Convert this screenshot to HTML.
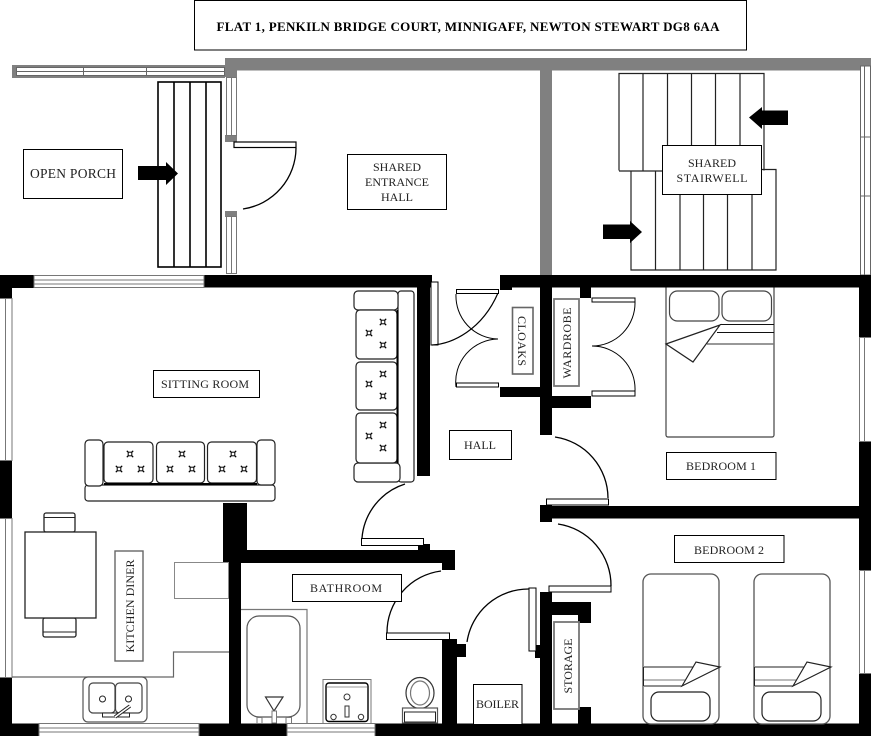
<!DOCTYPE html>
<html><head><meta charset="utf-8"><style>html,body{margin:0;padding:0;background:#fff}svg{display:block}text{font-family:"Liberation Serif",serif;font-size:12px;fill:#222;text-anchor:middle}</style></head><body>
<svg width="871" height="736" viewBox="0 0 871 736" xmlns="http://www.w3.org/2000/svg">
<defs>
<g id="d"><path d="M-3.200-3.200L3.200 3.200M-3.200 3.200L3.200-3.200" stroke="#000" stroke-width="1.200"/><rect x="-1.800" y="-1.800" width="3.600" height="3.600" fill="#fff" stroke="#000" stroke-width="1"/></g>
</defs>
<rect width="871" height="736" fill="#fff"/>
<!-- gray walls -->
<g fill="#808080">
<rect x="225" y="58" width="646" height="12.5"/><rect x="225" y="58" width="12" height="19"/>
<rect x="540" y="58" width="12" height="218"/>
<rect x="12" y="65" width="213" height="13"/>
<rect x="225" y="135" width="12" height="7"/><rect x="225" y="211" width="12" height="6"/>
</g>
<rect x="16.500" y="67.500" width="208" height="8" fill="#fff" stroke="#666" stroke-width="1"/>
<path d="M17 71.500H225M83.500 68V75M146.500 68V75" stroke="#666" fill="none"/>
<g fill="#fff" stroke="#777"><rect x="226.500" y="77.500" width="10" height="58"/><rect x="226.500" y="216.500" width="10" height="57"/></g>
<path d="M231.500 78V135M231.500 217V273" stroke="#777"/>
<!-- front door -->
<rect x="234" y="142" width="62" height="5.500" fill="#fff" stroke="#000" stroke-width="1.200"/>
<path d="M296 148A62 62 0 0 1 243 209" fill="none" stroke="#000" stroke-width="1.300"/>
<!-- porch steps -->
<rect x="158" y="82" width="63" height="185" fill="#fff" stroke="#000" stroke-width="1.600"/>
<path d="M174 82V267M190 82V267M206 82V267" stroke="#000" stroke-width="1.600"/>
<path d="M138 166H166V162L178 173.500L166 185V180H138Z" fill="#000"/>
<rect x="23.500" y="149.500" width="99" height="49" fill="#fff" stroke="#000"/>
<text x="73" y="178" style="font-size:13.500px" textLength="86" lengthAdjust="spacing">OPEN PORCH</text>
<!-- title -->
<rect x="194.500" y="0.500" width="552" height="49.500" fill="#fff" stroke="#000"/>
<text x="468" y="31" textLength="503" lengthAdjust="spacing" style="font-weight:bold;fill:#000;font-size:13px">FLAT 1, PENKILN BRIDGE COURT, MINNIGAFF, NEWTON STEWART DG8 6AA</text>
<!-- shared hall -->
<rect x="347.500" y="154.500" width="99" height="55" fill="#fff" stroke="#000"/>
<text x="397" y="171">SHARED</text><text x="397" y="186">ENTRANCE</text><text x="397" y="201">HALL</text>
<!-- stairs -->
<g fill="none" stroke="#222" stroke-width="1.200">
<path d="M619 170.500V73.500H764V170.500"/><path d="M619 171H665"/><path d="M643 74V171M667.500 74V146M691.500 74V146M715.500 74V146M740 74V146"/>
<path d="M631 171V270H776V169.500H761"/><path d="M655.500 171V270M680 194V270M703.500 194V270M727.500 194V270M752 194V270"/>
</g>
<rect x="662.500" y="145.500" width="99" height="49" fill="#fff" stroke="#000"/>
<text x="712" y="167">SHARED</text><text x="712" y="182" textLength="71" lengthAdjust="spacing">STAIRWELL</text>
<path d="M749 117.500L762 107V110.500H788V125H762V129Z" fill="#000"/>
<path d="M603 224.500H630V221L642 232L630 243V239H603Z" fill="#000"/>
<!-- right window upper -->
<rect x="860.500" y="66" width="10" height="209" fill="#fff" stroke="#666"/><path d="M864.500 66V275M861 137H871M861 196H871" stroke="#666"/>
<!-- bed 1 (behind wall) -->
<rect x="666" y="280" width="108" height="157" rx="2" fill="#fff" stroke="#444" stroke-width="1.200"/>
<!-- black walls -->
<g fill="#000">
<rect x="0" y="275" width="34" height="13"/><rect x="0" y="275" width="12" height="23"/>
<rect x="204" y="275" width="228" height="12.500"/><rect x="417" y="275" width="13" height="201"/>
<rect x="500" y="275" width="371" height="12.500"/><rect x="500" y="287" width="12" height="3"/>
<rect x="540" y="275" width="12" height="160"/><rect x="580" y="287" width="11" height="11"/>
<rect x="500" y="387" width="40" height="10"/><rect x="552" y="396" width="39" height="12"/>
<rect x="859" y="275" width="12" height="62"/><rect x="859" y="442" width="12" height="128"/><rect x="859" y="674" width="12" height="62"/>
<rect x="540" y="506" width="331" height="12.500"/><rect x="540" y="505" width="12" height="17"/>
<rect x="540" y="592" width="12" height="133"/><rect x="552" y="602" width="39" height="13"/><rect x="578" y="615" width="13" height="8"/><rect x="578" y="707" width="13" height="18"/>
<rect x="535" y="645" width="6" height="13"/>
<rect x="0" y="461" width="12" height="57"/><rect x="0" y="678" width="12" height="58"/>
<rect x="0" y="723.500" width="39" height="13"/><rect x="199" y="723.500" width="88" height="13"/><rect x="375" y="723.500" width="496" height="13"/>
<rect x="223" y="503" width="24" height="60"/><rect x="223" y="550" width="232" height="13"/><rect x="442" y="550" width="13" height="20"/><rect x="418" y="544" width="12" height="7"/>
<rect x="229" y="563" width="12" height="161"/>
<rect x="442" y="639" width="15" height="85"/><rect x="457" y="644" width="9" height="13"/>
</g>
<!-- other windows -->
<g fill="#fff" stroke="#777">
<rect x="34" y="275.500" width="170" height="12"/>
<rect x="-1" y="298.500" width="13" height="162"/><rect x="-1" y="518.500" width="13" height="159"/>
<rect x="859.500" y="337.500" width="12" height="104"/><rect x="859.500" y="570.500" width="12" height="103"/>
<rect x="39" y="723.500" width="160" height="13"/><rect x="287" y="723.500" width="88" height="13"/>
</g>
<path d="M34 280H204M34 284H204M5.500 298V461M5.500 518V678M864.500 337V442M864.500 570V674M39 728H199M39 732H199M287 728H375M287 732H375" stroke="#777" fill="none"/>
<!-- sitting room door to hall -->
<rect x="431" y="282" width="7" height="63" fill="#fff" stroke="#000"/>
<path d="M432 345C452 344 482 330 498 293" fill="none" stroke="#000" stroke-width="1.200"/>
<!-- cloaks doors -->
<g fill="#fff" stroke="#000" stroke-width="1"><rect x="456.500" y="289.500" width="42" height="4"/><rect x="456.500" y="383" width="42" height="4"/></g>
<path d="M456 294A43 43 0 0 0 498 339M456 387A43 43 0 0 1 498 339" fill="none" stroke="#000"/>
<!-- wardrobe doors -->
<g fill="#fff" stroke="#000" stroke-width="1"><rect x="592" y="298" width="43" height="4"/><rect x="592" y="391" width="43" height="5"/></g>
<path d="M635 302A43 43 0 0 1 592 346M635 391A43 43 0 0 0 592 346" fill="none" stroke="#000"/>
<rect x="512.500" y="307.500" width="20.500" height="66.500" fill="#fff" stroke="#666" stroke-width="1.600"/>
<text transform="translate(518,341) rotate(90)" textLength="50" lengthAdjust="spacing">CLOAKS</text>
<rect x="554" y="299" width="25" height="87" fill="#fff" stroke="#777" stroke-width="1.800"/>
<text transform="translate(571,343) rotate(-90)" textLength="71" lengthAdjust="spacing">WARDROBE</text>
<rect x="449.500" y="430.500" width="62" height="29" fill="#fff" stroke="#000"/>
<text x="480" y="449">HALL</text>
<!-- hall door to bed 1 -->
<rect x="546.500" y="499" width="62" height="6" fill="#fff" stroke="#000"/>
<path d="M608 498A62 62 0 0 0 555 437" fill="none" stroke="#000" stroke-width="1.300"/>
<!-- door to bed 2 -->
<rect x="549" y="586" width="62" height="6" fill="#fff" stroke="#000"/>
<path d="M611 586A62 62 0 0 0 558 524" fill="none" stroke="#000" stroke-width="1.300"/>
<!-- sitting door -->
<rect x="361.500" y="538.500" width="62" height="7" fill="#fff" stroke="#000"/>
<path d="M362 538A62 62 0 0 1 405 484" fill="none" stroke="#000" stroke-width="1.300"/>
<!-- bathroom door -->
<rect x="386.500" y="633" width="63" height="6.500" fill="#fff" stroke="#000"/>
<path d="M387 633A62 62 0 0 1 441 571" fill="none" stroke="#000" stroke-width="1.300"/>
<!-- boiler door -->
<rect x="529" y="588" width="7" height="63" fill="#fff" stroke="#000"/>
<path d="M529 589A62 62 0 0 0 467 642" fill="none" stroke="#000" stroke-width="1.300"/>
<!-- vertical sofa -->
<g fill="#fff" stroke="#222" stroke-width="1.200">
<rect x="398" y="291" width="16" height="191" rx="3"/>
<rect x="354" y="291" width="44" height="19" rx="4"/>
<rect x="354" y="463" width="46" height="19" rx="4"/>
<rect x="356" y="310" width="41" height="49" rx="4"/>
<rect x="356" y="362" width="41" height="48" rx="4"/>
<rect x="356" y="413" width="41" height="50" rx="4"/>
</g>
<path d="M397.500 310V463" stroke="#000" stroke-width="2"/>
<use href="#d" x="369" y="333"/><use href="#d" x="383" y="322"/><use href="#d" x="383" y="345"/>
<use href="#d" x="369" y="384"/><use href="#d" x="383" y="374"/><use href="#d" x="383" y="396"/>
<use href="#d" x="369" y="436"/><use href="#d" x="383" y="425"/><use href="#d" x="383" y="448"/>
<!-- horizontal sofa -->
<g fill="#fff" stroke="#222" stroke-width="1.200">
<rect x="85" y="485" width="190" height="16" rx="3"/>
<rect x="85" y="440" width="18" height="46" rx="4"/>
<rect x="257" y="440" width="18" height="45" rx="4"/>
<rect x="104" y="442" width="49" height="41" rx="4"/>
<rect x="156.500" y="442" width="48" height="41" rx="4"/>
<rect x="207.500" y="442" width="49" height="41" rx="4"/>
</g>
<path d="M104 484H257" stroke="#000" stroke-width="2"/>
<use href="#d" x="130" y="454"/><use href="#d" x="119" y="469"/><use href="#d" x="141" y="469"/>
<use href="#d" x="182" y="454"/><use href="#d" x="170" y="469"/><use href="#d" x="192" y="469"/>
<use href="#d" x="233" y="454"/><use href="#d" x="222" y="469"/><use href="#d" x="244" y="469"/>
<rect x="153.500" y="370.500" width="106" height="27" fill="#fff" stroke="#000"/>
<text x="205" y="388" textLength="88" lengthAdjust="spacing">SITTING ROOM</text>
<!-- dining -->
<g fill="#fff" stroke="#222" stroke-width="1.300">
<rect x="44" y="513" width="31" height="19" rx="2"/><rect x="43" y="618" width="33" height="19" rx="2"/>
<rect x="25" y="532" width="71" height="86"/>
</g>
<path d="M44 517.500H75M43 632H76" stroke="#222"/>
<rect x="115" y="551" width="28" height="110" fill="#fff" stroke="#666" stroke-width="1.400"/>
<text transform="translate(134,606) rotate(-90)" textLength="93" lengthAdjust="spacing">KITCHEN DINER</text>
<!-- fridge & worktop -->
<rect x="174.500" y="562.500" width="54" height="36" fill="#fff" stroke="#888"/>
<path d="M12 677H173.500V652H229" fill="none" stroke="#666" stroke-width="1.200"/>
<rect x="83" y="677" width="64" height="45" rx="5" fill="#fff" stroke="#555" stroke-width="1.200"/>
<rect x="89" y="683" width="26" height="30" rx="4" fill="#fff" stroke="#444" stroke-width="1.200"/>
<rect x="115.500" y="683" width="26.500" height="30" rx="4" fill="#fff" stroke="#444" stroke-width="1.200"/>
<circle cx="102.500" cy="699" r="3" fill="#fff" stroke="#222"/><circle cx="128.500" cy="699" r="3" fill="#fff" stroke="#222"/>
<rect x="102.500" y="713" width="27" height="4" fill="#fff" stroke="#222"/>
<path d="M115 717L130 706" stroke="#222" stroke-width="3.500"/><path d="M115 717L130 706" stroke="#fff" stroke-width="1.500"/>
<!-- bathroom -->
<rect x="292.500" y="574.500" width="109" height="27" fill="#fff" stroke="#000"/>
<text x="346" y="592" textLength="72" lengthAdjust="spacing">BATHROOM</text>
<path d="M241 609.500H307V723" fill="none" stroke="#777" stroke-width="1.200"/>
<rect x="247" y="616" width="53" height="101" rx="12" fill="#fff" stroke="#555" stroke-width="1.200"/>
<path d="M265.500 697H283L274 711Z" fill="#fff" stroke="#333" stroke-width="1.200"/>
<g fill="#fff" stroke="#777"><rect x="272" y="711" width="4.500" height="12"/><rect x="257" y="717.500" width="5" height="6"/><rect x="286" y="717.500" width="5.500" height="6"/></g>
<rect x="323" y="679.500" width="48" height="44" fill="#fff" stroke="#777"/>
<rect x="326" y="683" width="42" height="38.500" rx="3" fill="#fff" stroke="#000" stroke-width="1.400"/>
<path d="M327 687H367" stroke="#999"/>
<circle cx="347" cy="697" r="3" fill="#fff" stroke="#333"/><circle cx="333.500" cy="717" r="2.700" fill="#fff" stroke="#333"/><circle cx="361" cy="717" r="2.700" fill="#fff" stroke="#333"/>
<rect x="345" y="706" width="4" height="11" fill="#fff" stroke="#333"/>
<ellipse cx="420" cy="693" rx="14" ry="15.500" fill="#fff" stroke="#333" stroke-width="1.200"/><ellipse cx="420" cy="693" rx="9.500" ry="12" fill="#fff" stroke="#777" stroke-width="1.200"/>
<rect x="402.500" y="708" width="35" height="15" fill="#fff" stroke="#555" stroke-width="1.200"/><rect x="404.500" y="712" width="31" height="10" fill="#fff" stroke="#222"/>
<!-- boiler -->
<rect x="473.500" y="684.500" width="48.500" height="40" fill="#fff" stroke="#000"/>
<text x="497.500" y="708" textLength="43" lengthAdjust="spacing">BOILER</text>
<!-- storage -->
<rect x="554" y="622" width="25" height="87" fill="#fff" stroke="#777" stroke-width="1.800"/>
<text transform="translate(572,666) rotate(-90)" textLength="55" lengthAdjust="spacing">STORAGE</text>
<!-- bed 1 details -->
<rect x="669.500" y="291" width="49.500" height="30" rx="8" fill="#fff" stroke="#444" stroke-width="1.200"/>
<rect x="722" y="291" width="49.500" height="30" rx="8" fill="#fff" stroke="#444" stroke-width="1.200"/>
<path d="M720 324.500H774M717 332.500H774" stroke="#111"/><path d="M707 344H774" stroke="#777" stroke-width="1.500"/>
<path d="M666 344L720 325L693 362Z" fill="#fff" stroke="#222" stroke-width="1.200"/>
<rect x="666.500" y="452.500" width="109.500" height="27" fill="#fff" stroke="#000"/>
<text x="721" y="470" textLength="70" lengthAdjust="spacing">BEDROOM 1</text>
<rect x="674.500" y="535.500" width="109.500" height="27" fill="#fff" stroke="#000"/>
<text x="729" y="554" textLength="70" lengthAdjust="spacing">BEDROOM 2</text>
<!-- twin beds -->
<g id="b">
<rect x="643" y="574" width="76" height="150" rx="8" fill="#fff" stroke="#555" stroke-width="1.300"/>
<rect x="651" y="692" width="59" height="29" rx="8" fill="#fff" stroke="#222" stroke-width="1.200"/>
<path d="M644 667H696M644 686H682" stroke="#222"/><path d="M644 680H690" stroke="#777"/><path d="M643.500 667V686" stroke="#222"/>
<path d="M682 686L696 662L720 667Z" fill="#fff" stroke="#222" stroke-width="1.200"/>
</g>
<use href="#b" x="111"/>
</svg>
</body></html>
